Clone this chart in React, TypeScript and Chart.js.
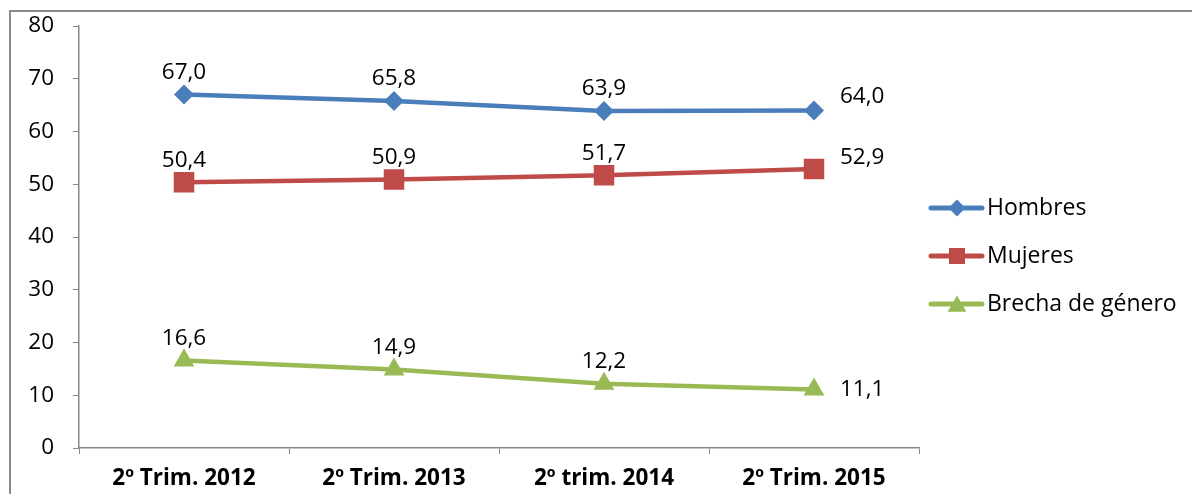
import React, { useEffect, useRef } from "react";
import { Chart, registerables } from "chart.js";

Chart.register(...registerables);

const categories = ["2º Trim. 2012", "2º Trim. 2013", "2º trim. 2014", "2º Trim. 2015"];
const hombres = [67.0, 65.8, 63.9, 64.0];
const mujeres = [50.4, 50.9, 51.7, 52.9];
const brecha = [16.6, 14.9, 12.2, 11.1];
const seriesNames = ["Hombres", "Mujeres", "Brecha de género"];
const seriesColors = ["#4A7EBB", "#BE4B48", "#98B954"];
const lastLabelOffsets = [-14, -11, 0];

const FONT = "'Open Sans', sans-serif";

function drawMarker(ctx: CanvasRenderingContext2D, kind: number, x: number, y: number, s: number) {
  ctx.beginPath();
  if (kind === 0) {
    ctx.moveTo(x - s, y);
    ctx.lineTo(x, y - s);
    ctx.lineTo(x + s, y);
    ctx.lineTo(x, y + s);
  } else if (kind === 1) {
    ctx.rect(x - s, y - s, 2 * s, 2 * s);
  } else {
    ctx.moveTo(x, y - s);
    ctx.lineTo(x + s * 1.1, y + s * 0.9);
    ctx.lineTo(x - s * 1.1, y + s * 0.9);
  }
  ctx.closePath();
  ctx.fill();
}

const overlayPlugin = {
  id: "overlay",
  afterDatasetsDraw(chart: any) {
    const ctx: CanvasRenderingContext2D = chart.ctx;
    ctx.save();
    ctx.font = `22.5px ${FONT}`;
    ctx.fillStyle = "#000";
    ctx.textBaseline = "middle";
    chart.data.datasets.forEach((ds: any, di: number) => {
      const meta = chart.getDatasetMeta(di);
      meta.data.forEach((pt: any, i: number) => {
        const txt = ds.data[i].toFixed(1).replace(".", ",");
        if (i === ds.data.length - 1) {
          ctx.textAlign = "left";
          ctx.fillText(txt, pt.x + 26, pt.y + lastLabelOffsets[di]);
        } else {
          ctx.textAlign = "center";
          ctx.fillText(txt, pt.x, pt.y - 22);
        }
      });
    });
    // legend
    const legendY = [208, 256, 304];
    seriesNames.forEach((name, i) => {
      const y = legendY[i];
      ctx.strokeStyle = seriesColors[i];
      ctx.fillStyle = seriesColors[i];
      ctx.lineWidth = 5;
      ctx.lineCap = "round";
      ctx.beginPath();
      ctx.moveTo(931, y);
      ctx.lineTo(982, y);
      ctx.stroke();
      drawMarker(ctx, i, 957, y, i === 1 ? 8 : 8.5);
      ctx.fillStyle = "#000";
      ctx.textAlign = "left";
      ctx.font = `23px ${FONT}`;
      ctx.fillText(name, 987, y);
    });
    // outer border
    ctx.strokeStyle = "#8a8a8a";
    ctx.lineWidth = 2;
    ctx.lineCap = "butt";
    ctx.beginPath();
    ctx.moveTo(10, 494);
    ctx.lineTo(10, 11);
    ctx.lineTo(1192, 11);
    ctx.stroke();
    ctx.restore();
  },
};

export default function App() {
  const ref = useRef<HTMLCanvasElement>(null);
  useEffect(() => {
    if (!ref.current) return;
    const mk = (i: number, data: number[], style: string, radius: number) => ({
      label: seriesNames[i],
      data,
      borderColor: seriesColors[i],
      backgroundColor: seriesColors[i],
      borderWidth: 4.5,
      pointStyle: style,
      pointRadius: radius,
      pointHoverRadius: radius,
      pointBorderWidth: 0,
      pointBackgroundColor: seriesColors[i],
      tension: 0,
    });
    const chart = new Chart(ref.current, {
      type: "line",
      data: {
        labels: categories,
        datasets: [
          mk(0, hombres, "rectRot", 10),
          mk(1, mujeres, "rect", 14.5),
          mk(2, brecha, "triangle", 12),
        ],
      },
      options: {
        animation: false,
        responsive: false,
        maintainAspectRatio: false,
        layout: { padding: { top: 26, right: 273, left: 0, bottom: 0 } },
        plugins: { legend: { display: false }, tooltip: { enabled: false } },
        scales: {
          x: {
            offset: true,
            grid: { offset: true, drawOnChartArea: false, drawTicks: true, tickLength: 6, color: "#888" },
            border: { color: "#888", width: 1.5 },
            ticks: { color: "#000", font: { family: FONT, size: 22.5, weight: "bold" }, padding: 11, maxRotation: 0 },
            afterFit: (s: any) => {
              s.height = 46;
              s.paddingLeft = 0;
              s.paddingRight = 0;
            },
          },
          y: {
            min: 0,
            max: 80,
            ticks: { stepSize: 10, color: "#000", font: { family: FONT, size: 22.5 }, padding: 19 },
            grid: { drawOnChartArea: false, drawTicks: true, tickLength: 6, color: "#888" },
            border: { color: "#888", width: 1.5 },
            afterFit: (s: any) => {
              s.width = 79;
              s.paddingTop = 0;
              s.paddingBottom = 0;
            },
          },
        },
      },
      plugins: [overlayPlugin],
    });
    return () => chart.destroy();
  }, []);
  return (
    <div style={{ position: "absolute", left: 0, top: 0, width: 1192, height: 494, background: "#fff" }}>
      <canvas ref={ref} width={1192} height={494} style={{ display: "block", width: 1192, height: 494 }} />
    </div>
  );
}
